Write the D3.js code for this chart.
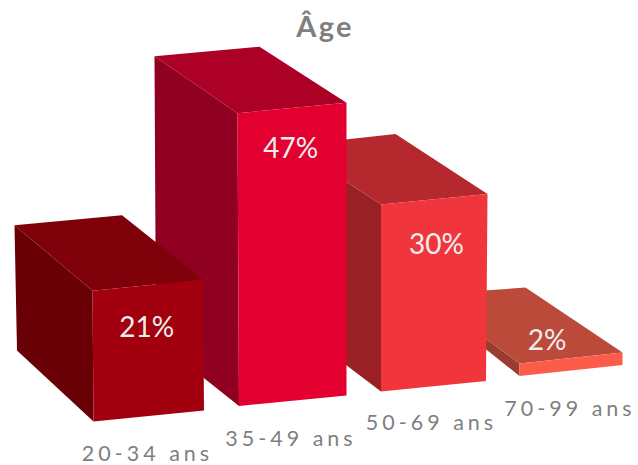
<!DOCTYPE html>
<html><head><meta charset="utf-8">
<script src="https://cdn.jsdelivr.net/npm/d3@7/dist/d3.min.js"></script>
<style>html,body{margin:0;padding:0;background:#fff}svg{display:block}text{font-family:Lato,sans-serif}</style>
</head><body><svg id="c" width="638" height="465"></svg>
<script>
const categories = ["20-34 ans","35-49 ans","50-69 ans","70-99 ans"];
const values = [21,47,30,2];
const labels = ["21%","47%","30%","2%"];
const title = "Âge";
const frontColors = ["#a3000f","#e30030","#f0363c","#fb5d4a"];
const topColors   = ["#7e0008","#ac0026","#b5282d","#bc4a3a"];
const sideColors  = ["#680006","#900020","#992024","#9a3d30"];

// Perspective layout, one scale per parameter, indexed by category
const idx = d3.scaleOrdinal().domain(categories).range(d3.range(categories.length));
const dom = d3.range(categories.length);
const s = r => d3.scaleLinear().domain(dom).range(r);
const frontX = s([93.5,239,381,519.5]);
const baseY  = s([421.5,406,391.5,376]);
const width  = s([110.5,107.5,105,103]);
const rise   = s([11,10.5,10.5,11]);
const leanL  = s([1,1.5,0,0]);
const leanR  = s([1,0,-1.5,0]);
const backTopLX = s([-78,-83,-90,-94]);
const backTopLY = s([-65.5,-57,-59,-69]);
const backTopRX = s([-81,-87,-92,-97]);
const backTopRY = s([-64.5,-56,-60,-65]);
const backBotX  = s([-76.5,-83,-91,-94]);
const backBotY  = s([-71,-66,-69,-75]);
const height = d3.scaleLinear().domain([0,100]).range([0,623]);
const labelDX = s([-2,-2,3,-24]);
const labelDY = s([51.5,50,55,-8]);
const catCX = s([147.5,291,431.5,570]);
const catY  = s([461,445.5,430,416]);

const bars = categories.map((c,i)=>{
  const h = height(values[i]), k = idx(c);
  const x0 = frontX(k), y0 = baseY(k), w = width(k), r = rise(k);
  const BL=[x0,y0], BR=[x0+w,y0-r], TL=[x0-leanL(k),y0-h], TR=[x0+w-leanR(k),y0-r-h];
  const bTL=[TL[0]+backTopLX(k),TL[1]+backTopLY(k)];
  const bTR=[TR[0]+backTopRX(k),TR[1]+backTopRY(k)];
  const bBL=[BL[0]+backBotX(k),BL[1]+backBotY(k)];
  return {c,k,BL,BR,TL,TR,bTL,bTR,bBL,
    cx:x0+w/2+labelDX(k), ty:y0-h-r/2+labelDY(k)};
});

const svg = d3.select("#c");
const line = d3.line();
const path = p => line(p)+"Z";
// back to front: the left-most bar sits nearest the viewer
const g = svg.selectAll("g.bar").data(bars.slice().reverse()).join("g").attr("class","bar");
g.append("path").attr("d",d=>path([d.TL,d.bTL,d.bBL,d.BL])).attr("fill",d=>sideColors[d.k]);
g.append("path").attr("d",d=>path([d.TL,d.bTL,d.bTR,d.TR])).attr("fill",d=>topColors[d.k]);
g.append("path").attr("d",d=>path([d.TL,d.TR,d.BR,d.BL])).attr("fill",d=>frontColors[d.k]);

svg.selectAll("text.val").data(bars).join("text").attr("class","val")
  .attr("x",d=>d.cx).attr("y",d=>d.ty).attr("text-anchor","middle")
  .attr("font-size",28).attr("fill","#eeeeee").text(d=>labels[d.k]);

svg.selectAll("text.cat").data(bars).join("text").attr("class","cat")
  .attr("x",d=>catCX(d.k)).attr("y",d=>catY(d.k)).attr("text-anchor","middle")
  .attr("font-size",21.5).attr("letter-spacing",4).attr("fill","#7f7f7f").text(d=>d.c);

svg.append("text").attr("x",325).attr("y",37).attr("text-anchor","middle")
  .attr("font-size",29).attr("font-weight",700).attr("letter-spacing",2.3)
  .attr("fill","#7f7f7f").text(title);
</script></body></html>
